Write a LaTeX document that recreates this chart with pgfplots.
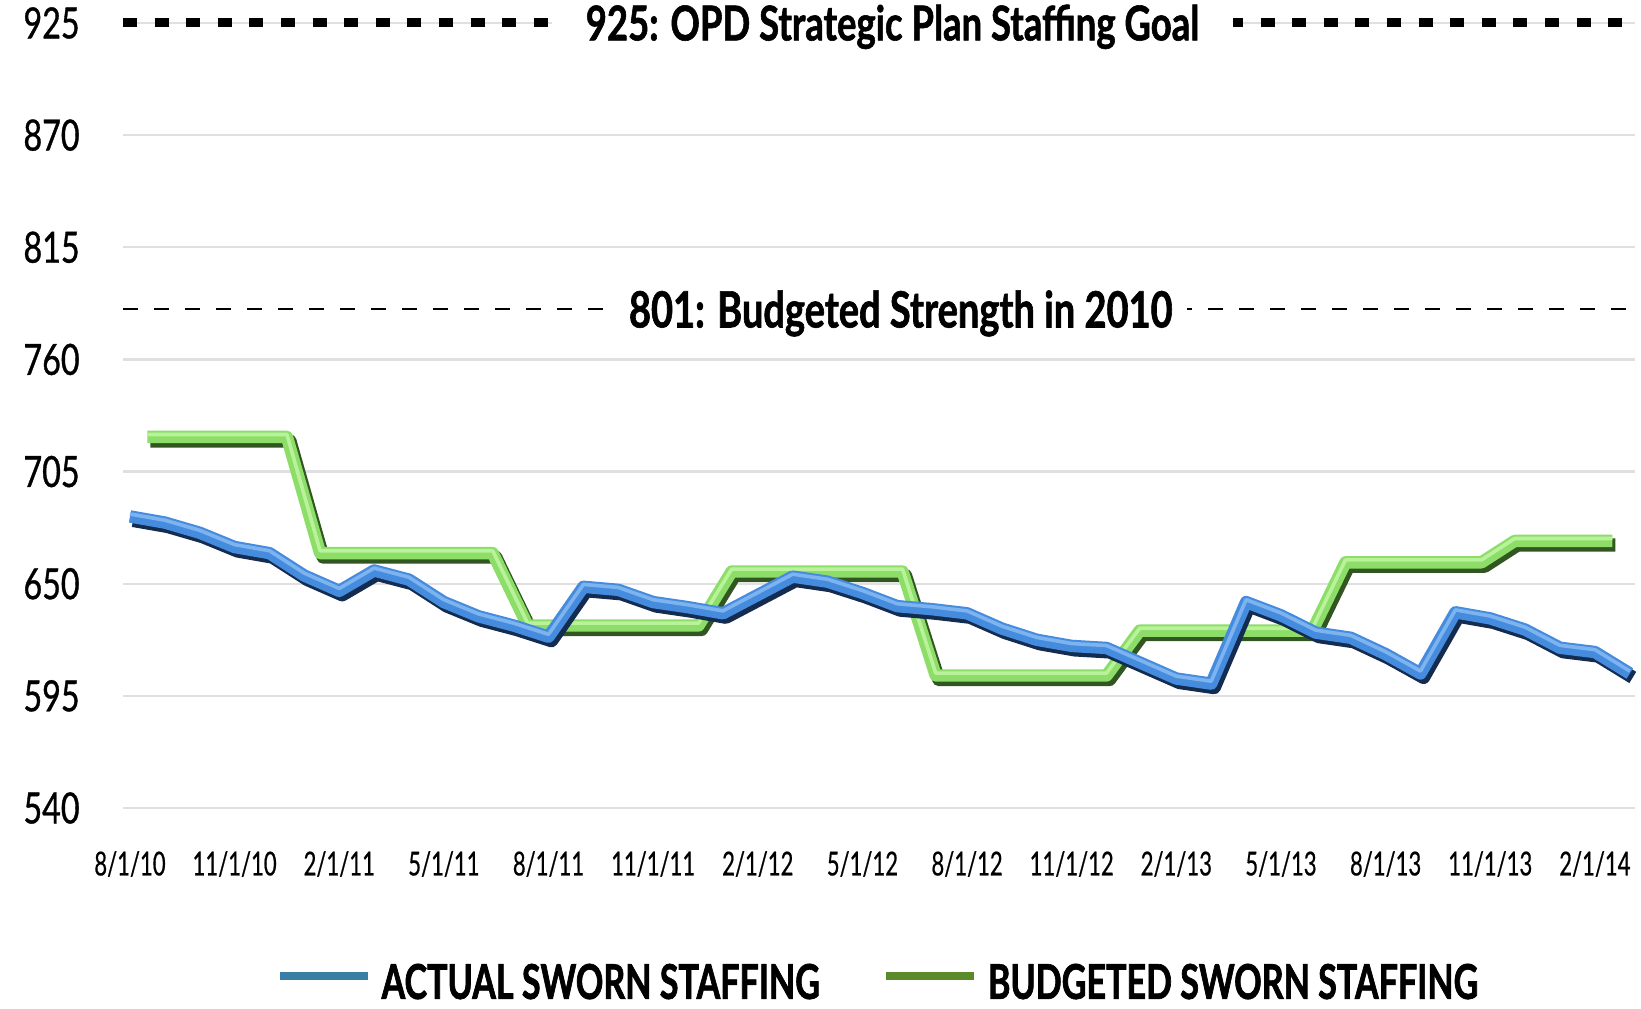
\documentclass[border=0pt]{standalone}
\usepackage{fontspec}
\setmainfont{Lato}[FakeStretch=0.76]
\newfontfamily\heavyfont{Lato Bold}[FakeStretch=0.76,FakeBold=1.2]
\newfontfamily\legfont{Lato Bold}[FakeStretch=0.71,FakeBold=1.4]
\newfontfamily\ytickfont{Lato}[FakeStretch=0.75,FakeBold=0.8]
\newfontfamily\xtickfont{Lato}[FakeStretch=0.67,FakeBold=0.5]
\usepackage{pgfplots}
\usepackage{pgfplotstable}
\pgfplotsset{compat=1.18}
\definecolor{bluemain}{RGB}{70,140,222}
\definecolor{bluedark}{RGB}{20,44,80}
\definecolor{bluelight}{RGB}{125,180,240}
\definecolor{greenmain}{RGB}{140,222,104}
\definecolor{greendark}{RGB}{50,86,34}
\definecolor{greenlight}{RGB}{185,242,155}
\definecolor{legblue}{RGB}{58,126,166}
\definecolor{leggreen}{RGB}{90,138,42}

\pgfplotstableread{
m v
0 683
1 680
2 675
3 668
4 665
5 654
6 646.5
7 656.5
8 652
9 641
10 634
11 629.5
12 624
13 648.5
14 647
15 641
16 638.5
17 635.5
18 644.5
19 653.5
20 651
21 645.5
22 639
23 637.5
24 635.5
25 628
26 622.5
27 619.5
28 618.5
29 611
30 603.5
31 601
32 641
33 634.5
34 626
35 623.5
36 615.5
37 606
38 636
39 633
40 627.5
41 618.6
42 616.5
43 606
}\actual

\pgfplotstableread{
x v
0.5 722
4.5 722
5.45 665
10.4 665
11.4 629.5
16.3 629.5
17.25 656
22.15 656
23.1 605
28.0 605
28.95 627
33.9 627
34.85 660.5
38.75 660.5
39.7 671
42.5 671
}\budget

\begin{document}
\begin{tikzpicture}
\useasboundingbox (-61.5pt,-100pt) rectangle (759pt,404pt);
\begin{axis}[
  width=756pt, height=392.5pt, scale only axis,
  xmin=-0.2, xmax=43.15, ymin=540, ymax=925,
  clip=false,
  axis line style={draw=none},
  tick style={draw=none},
  ymajorgrids, grid style={line width=1.2pt, color=black!12},
  xtick={0,3,...,42},
  xticklabels={8/1/10,11/1/10,2/1/11,5/1/11,8/1/11,11/1/11,2/1/12,5/1/12,8/1/12,11/1/12,2/1/13,5/1/13,8/1/13,11/1/13,2/1/14},
  ytick={540,595,650,705,760,815,870,925},
  /pgf/number format/assume math mode=true,
  yticklabel style={font=\ytickfont\fontsize{21.5}{22}\selectfont, anchor=east, inner sep=0pt, xshift=-21.5pt},
  xticklabel style={font=\xtickfont\fontsize{16.5}{17}\selectfont, anchor=center, inner sep=0pt, yshift=-28pt},
  legend columns=2,
  legend style={at={(axis description cs:0,0)}, anchor=north west, xshift=76pt, yshift=-77.7pt,
    draw=none, fill=none, inner sep=0pt, nodes={inner sep=0pt},
    font=\legfont\fontsize{24}{24}\selectfont,
    /tikz/every odd column/.append style={column sep=4.9pt},
    /tikz/every even column/.append style={column sep=31pt}},
]
% reference lines
\addplot[forget plot, black, line width=4.5pt, dash pattern=on 7pt off 8.8pt] coordinates {(-0.2,925) (43.15,925)};
\addplot[forget plot, black, line width=1pt, dash pattern=on 7.5pt off 8pt] coordinates {(-0.2,784.5) (43.15,784.5)};
\node[fill=white, inner xsep=17pt, inner ysep=3pt, anchor=base, yshift=-8.7pt, font=\heavyfont\fontsize{24}{24}\selectfont] at (axis cs:21.86,925) {925: OPD Strategic Plan Staffing Goal};
\node[fill=white, inner xsep=7pt, inner ysep=3pt, anchor=base, yshift=-9pt, font=\heavyfont\fontsize{25}{25}\selectfont] at (axis cs:22.1,784.5) {801: Budgeted Strength in 2010};
% budgeted
\addplot[forget plot, greenmain, line width=6.2pt, line join=round,
  preaction={draw=greendark, line width=6.6pt, transform canvas={xshift=1.5pt,yshift=-2pt}},
  postaction={draw=greenlight, line width=1.8pt, transform canvas={yshift=1.2pt}}]
  table[x=x,y=v]{\budget};
% actual
\addplot[forget plot, bluemain, line width=6.2pt, line join=round,
  preaction={draw=bluedark, line width=6.6pt, transform canvas={xshift=1.5pt,yshift=-2pt}},
  postaction={draw=bluelight, line width=1.8pt, transform canvas={yshift=1.2pt}}]
  table[x=m,y=v]{\actual};
\addlegendimage{legend image code/.code={\draw[legblue,line width=4.2pt] (0pt,3.5pt)--(44pt,3.5pt);}}
\addlegendentry{ACTUAL SWORN STAFFING}
\addlegendimage{legend image code/.code={\draw[leggreen,line width=4.2pt] (0pt,3.5pt)--(44pt,3.5pt);}}
\addlegendentry{BUDGETED SWORN STAFFING}
\end{axis}
\end{tikzpicture}
\end{document}
